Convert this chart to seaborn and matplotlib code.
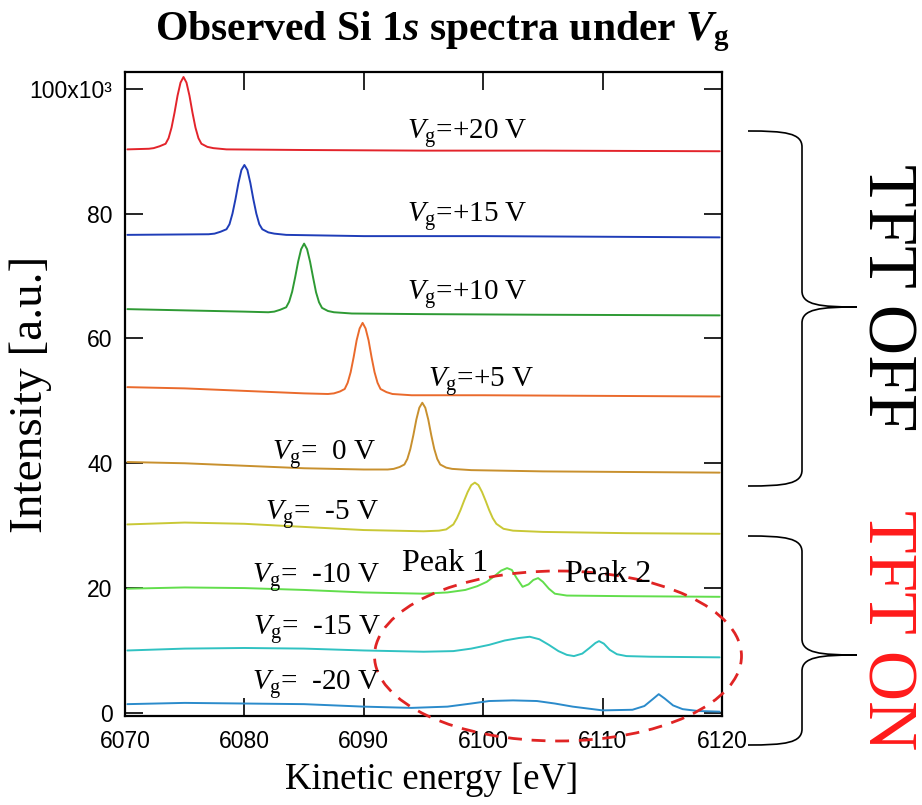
import matplotlib
matplotlib.use("Agg")
import matplotlib.pyplot as plt
import seaborn as sns
from matplotlib.patches import Ellipse, PathPatch
from matplotlib.path import Path

# spectra (kinetic energy in eV, intensity in 10^3 counts)
e_p20 = [6070.2, 6072.0, 6072.4, 6072.9, 6073.4, 6073.65, 6073.9, 6074.15, 6074.4, 6074.65, 6074.9, 6075.15,
         6075.4, 6075.65, 6075.9, 6076.15, 6076.4, 6076.9, 6077.4, 6078.5, 6085.0, 6095.0, 6105.0, 6119.8]
i_p20 = [90.3, 90.4, 90.5, 90.8, 91.2, 92.1, 93.8, 96.2, 98.9, 101.0, 101.9, 101.0,
         98.9, 96.2, 93.8, 92.1, 91.2, 90.7, 90.5, 90.3, 90.2, 90.1, 90.1, 90.0]

e_p15 = [6070.2, 6077.0, 6077.5, 6078.0, 6078.5, 6078.75, 6079.0, 6079.25, 6079.5, 6079.75, 6080.0, 6080.25,
         6080.5, 6080.75, 6081.0, 6081.25, 6081.5, 6082.0, 6082.5, 6083.5, 6090.0, 6100.0, 6110.0, 6119.8]
i_p15 = [76.6, 76.7, 76.8, 77.1, 77.5, 78.3, 80.0, 82.3, 84.9, 87.0, 87.8, 87.0,
         84.9, 82.3, 80.0, 78.3, 77.5, 77.0, 76.8, 76.6, 76.4, 76.4, 76.3, 76.2]

e_p10 = [6070.2, 6075.0, 6080.0, 6082.0, 6082.5, 6083.0, 6083.5, 6083.75, 6084.0, 6084.25, 6084.5, 6084.75, 6085.0,
         6085.25, 6085.5, 6085.75, 6086.0, 6086.25, 6086.5, 6087.0, 6087.5, 6089.0, 6095.0, 6105.0, 6119.8]
i_p10 = [64.7, 64.5, 64.3, 64.2, 64.3, 64.6, 65.0, 65.9, 67.5, 69.8, 72.3, 74.3, 75.2,
         74.3, 72.3, 69.8, 67.4, 65.8, 64.9, 64.4, 64.2, 64.0, 63.9, 63.8, 63.7]

e_p5 = [6070.2, 6075.0, 6080.0, 6085.0, 6087.0, 6087.5, 6088.0, 6088.4, 6088.65, 6088.9, 6089.15, 6089.4, 6089.65,
        6089.9, 6090.15, 6090.4, 6090.65, 6090.9, 6091.15, 6091.4, 6091.9, 6092.4, 6094.0, 6100.0, 6110.0, 6119.8]
i_p5 = [52.2, 52.0, 51.6, 51.2, 51.1, 51.2, 51.5, 51.9, 52.9, 54.6, 57.0, 59.7, 61.6,
        62.5, 61.6, 59.7, 57.0, 54.6, 52.9, 51.9, 51.4, 51.1, 50.9, 50.9, 50.8, 50.7]

e_0 = [6070.2, 6075.0, 6080.0, 6085.0, 6090.0, 6092.0, 6092.5, 6093.0, 6093.4, 6093.65, 6093.9, 6094.15, 6094.4,
       6094.65, 6094.9, 6095.15, 6095.4, 6095.65, 6095.9, 6096.15, 6096.4, 6096.9, 6097.4, 6099.0, 6105.0, 6119.8]
i_0 = [40.2, 40.0, 39.6, 39.2, 39.0, 39.0, 39.1, 39.4, 39.8, 40.7, 42.3, 44.5, 47.0,
       48.9, 49.7, 48.9, 47.0, 44.5, 42.3, 40.7, 39.8, 39.3, 39.1, 38.9, 38.7, 38.5]

e_m5 = [6070.2, 6075.0, 6080.0, 6085.0, 6090.0, 6095.0, 6096.3, 6096.9, 6097.5, 6097.8, 6098.1, 6098.4, 6098.7,
        6099.0, 6099.3, 6099.6, 6099.9, 6100.2, 6100.5, 6100.8, 6101.1, 6101.7, 6102.5, 6105.0, 6112.0, 6119.8]
i_m5 = [30.2, 30.5, 30.3, 29.8, 29.3, 29.1, 29.2, 29.4, 30.2, 31.2, 32.5, 34.0, 35.4,
        36.5, 36.9, 36.5, 35.4, 34.0, 32.5, 31.2, 30.3, 29.5, 29.2, 29.0, 28.8, 28.7]

e_m10 = [6070.2, 6075.0, 6080.0, 6085.0, 6090.0, 6095.0, 6097.0, 6098.5, 6099.5, 6100.3, 6101.0, 6101.5, 6102.0,
         6102.4, 6102.8, 6103.3, 6103.8, 6104.2, 6104.6, 6105.0, 6105.5, 6106.0, 6107.0, 6112.0, 6119.8]
i_m10 = [19.9, 20.1, 20.0, 19.7, 19.3, 19.1, 19.3, 19.7, 20.3, 21.0, 22.0, 22.8, 23.2,
         22.9, 21.6, 20.2, 20.6, 21.3, 21.6, 21.0, 19.9, 19.1, 18.8, 18.7, 18.6]

e_m15 = [6070.2, 6075.0, 6080.0, 6085.0, 6090.0, 6095.0, 6097.5, 6099.0, 6100.5, 6101.8, 6103.0, 6103.9, 6104.7, 6105.5,
         6106.3, 6107.0, 6107.6, 6108.3, 6108.9, 6109.4, 6109.7, 6110.1, 6110.6, 6111.2, 6112.0, 6114.0, 6119.8]
i_m15 = [10.0, 10.3, 10.4, 10.3, 10.0, 9.8, 9.9, 10.3, 10.9, 11.6, 12.0, 12.2, 11.8, 10.9,
         9.9, 9.3, 9.1, 9.5, 10.4, 11.2, 11.5, 11.1, 10.1, 9.4, 9.1, 9.0, 8.9]

e_m20 = [6070.2, 6075.0, 6080.0, 6085.0, 6090.0, 6094.0, 6097.0, 6099.0, 6100.5, 6102.5, 6104.5, 6106.0,
         6107.5, 6110.0, 6112.5, 6113.5, 6114.2, 6114.7, 6115.2, 6115.9, 6116.7, 6118.0, 6119.8]
i_m20 = [1.4, 1.6, 1.5, 1.4, 1.0, 0.8, 1.0, 1.5, 1.9, 2.0, 1.9, 1.5,
         1.0, 0.4, 0.5, 1.1, 2.2, 3.0, 2.3, 1.2, 0.6, 0.3, 0.2]

gate_labels = ['+20', '+15', '+10', '+5', '  0', '  -5', '  -10', '  -15', '  -20']
colors = ['#e3242b', '#1f3db8', '#2e9a34', '#ea6a2c', '#c8902e', '#c9c836', '#62de4c', '#30c2c2', '#2b8bcb']
x_ticks = [6070, 6080, 6090, 6100, 6110, 6120]
y_ticks = [0, 20, 40, 60, 80, 100]
y_ticklabels = ['0', '20', '40', '60', '80', '100x10\u00b3']

sns.set_style('ticks')
plt.rcParams['font.family'] = ['Liberation Serif', 'DejaVu Serif']
plt.rcParams['text.color'] = 'black'
plt.rcParams['axes.labelcolor'] = 'black'
plt.rcParams['xtick.color'] = 'black'
plt.rcParams['ytick.color'] = 'black'
plt.rcParams['mathtext.fontset'] = 'custom'
plt.rcParams['mathtext.rm'] = 'Liberation Serif'
plt.rcParams['mathtext.it'] = 'Liberation Serif:italic'
plt.rcParams['mathtext.bf'] = 'Liberation Serif:bold'
plt.rcParams['mathtext.bfit'] = 'Liberation Serif:italic:bold'

fig = plt.figure(figsize=(9.22, 8.05), dpi=100)
ax = fig.add_axes([125 / 922, 1 - 716 / 805, 597 / 922, 644 / 805])

spectra = [(e_p20, i_p20), (e_p15, i_p15), (e_p10, i_p10), (e_p5, i_p5), (e_0, i_0),
           (e_m5, i_m5), (e_m10, i_m10), (e_m15, i_m15), (e_m20, i_m20)]
for (e, inten), c in zip(spectra, colors):
    sns.lineplot(x=e, y=inten, color=c, linewidth=1.4, ax=ax)

ax.set_xlim(6070, 6120)
ax.set_ylim(-0.5, 102.7)
ax.set_xticks(x_ticks)
ax.set_yticks(y_ticks)
ax.set_yticklabels(y_ticklabels)
for lab in ax.get_xticklabels() + ax.get_yticklabels():
    lab.set_fontfamily(['Liberation Sans', 'DejaVu Sans'])
    lab.set_fontsize(16.5)
    lab.set_color('black')
ax.tick_params(direction='in', length=13, width=1.2, top=True, right=True, colors='black')
ax.tick_params(axis='x', pad=10)
ax.tick_params(axis='y', pad=9)
for s in ax.spines.values():
    s.set_linewidth(1.6)
    s.set_color('black')
ax.set_xlabel('Kinetic energy [eV]', fontsize=26.5, color='black')
ax.xaxis.set_label_coords((432 - 125) / 597, -0.072)
ax.set_ylabel('Intensity [a.u.]', fontsize=34, color='black')
ax.yaxis.set_label_coords((52 - 125) / 597, 0.5)

# overlay in pixel coordinates for the annotations
ov = fig.add_axes([0, 0, 1, 1], facecolor='none')
ov.set_xlim(0, 922)
ov.set_ylim(805, 0)
ov.axis('off')

ov.text(443, 40, r'Observed Si 1$\mathbfit{s}$ spectra under $\mathbfit{V}_\mathbf{g}$',
        ha='center', va='baseline', fontsize=30, fontweight='bold', color='black')

label_pos = [(407, 139), (407, 222), (407, 300), (428, 387), (272, 460), (265, 520), (252, 583), (253, 635), (252, 690)]
for (px, py), g in zip(label_pos, gate_labels):
    ov.text(px, py, r'$V_\mathrm{g}$=' + g + ' V', fontsize=21, ha='left', va='baseline', color='black')

ov.text(402, 571, 'Peak 1', fontsize=23, ha='left', va='baseline', color='black')
ov.text(565, 582, 'Peak 2', fontsize=23, ha='left', va='baseline', color='black')

ov.add_patch(Ellipse((558, 656), 367, 170, fill=False, edgecolor='#e02424', linewidth=2,
                     linestyle=(0, (5, 3.5)), clip_on=False))


def brace(y0, ym, y1):
    xe, xv, xt = 748, 802, 857
    verts = [(xe, y0), (785, y0), (xv, y0 + 2), (xv, y0 + 16),
             (xv, ym - 16),
             (xv, ym - 2), (820, ym), (xt, ym),
             (820, ym), (xv, ym + 2), (xv, ym + 16),
             (xv, y1 - 16),
             (xv, y1 - 2), (785, y1), (xe, y1)]
    codes = [Path.MOVETO, Path.CURVE4, Path.CURVE4, Path.CURVE4,
             Path.LINETO,
             Path.CURVE4, Path.CURVE4, Path.CURVE4,
             Path.CURVE4, Path.CURVE4, Path.CURVE4,
             Path.LINETO,
             Path.CURVE4, Path.CURVE4, Path.CURVE4]
    ov.add_patch(PathPatch(Path(verts, codes), fill=False, edgecolor='black', linewidth=1.2))


brace(131, 307, 486)
brace(536, 655, 745)
ov.text(885, 298, 'TFT OFF', rotation=-90, fontsize=50, ha='center', va='center', color='black')
ov.text(885, 630, 'TFT ON', rotation=-90, fontsize=50, ha='center', va='center', color='#ff1a1a')

fig.savefig('out.png', dpi=100)
